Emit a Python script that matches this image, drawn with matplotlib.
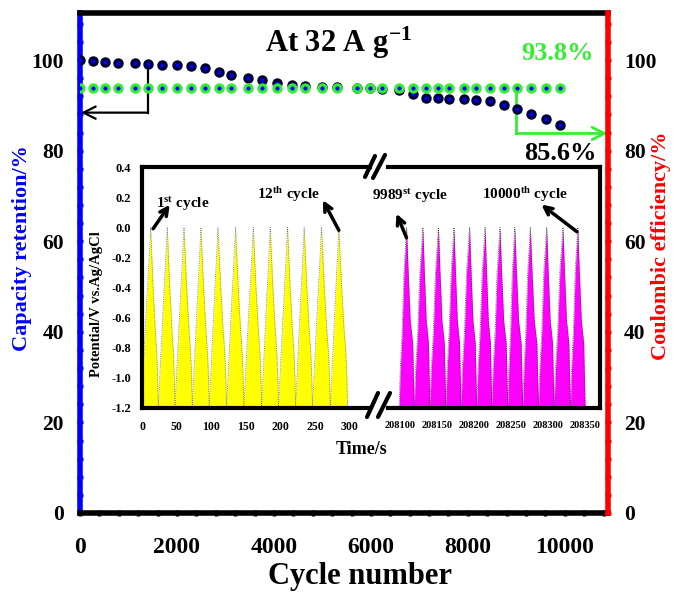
import numpy as np
import matplotlib
matplotlib.use('Agg')
import matplotlib.pyplot as plt
from matplotlib.lines import Line2D

plt.rcParams['font.family'] = ['Liberation Serif', 'DejaVu Serif']
plt.rcParams['font.weight'] = 'bold'
plt.rcParams['mathtext.fontset'] = 'custom'
plt.rcParams['mathtext.rm'] = 'Liberation Serif:bold'
plt.rcParams['mathtext.it'] = 'Liberation Serif:bold'
plt.rcParams['mathtext.bf'] = 'Liberation Serif:bold'

# cycling data
cycles = [0, 260, 515, 780, 1130, 1400, 1690, 2000, 2290, 2580, 2865, 3110,
          3460, 3750, 4060, 4370, 4640, 4990, 5300, 5705, 5980, 6220, 6580,
          6870, 7130, 7380, 7610, 7920, 8160, 8450, 8740, 9010, 9300, 9610, 9900]
retention = [100.0, 99.8, 99.6, 99.4, 99.3, 99.2, 99.0, 98.9, 98.6, 98.2, 97.4, 96.8,
             96.0, 95.5, 95.0, 94.5, 94.2, 94.1, 94.0, 93.9, 93.8, 93.7, 93.5,
             92.6, 91.7, 91.6, 91.4, 91.4, 91.3, 91.0, 90.0, 89.1, 88.1, 87.1, 85.6]
efficiency = [93.8] * len(cycles)

# galvanostatic charge/discharge curves (inset)
yellow_valley_t = [-1, 23.5, 47.6, 72.6, 97, 122, 147, 172.6, 197, 221.7, 246, 271.7, 296.7]
yellow_peak_t = [12.5, 36.5, 60.6, 85, 109.6, 135, 160.6, 185, 210, 234, 259, 284]
yellow_charge_frac = [0, 0.29, 0.57, 0.82, 1.0]
yellow_charge_v = [-1.2, -0.84, -0.50, -0.22, 0.0]
yellow_dis_frac = [0, 0.32, 0.6, 0.8, 0.92, 1.0]
yellow_dis_v = [0.0, -0.40, -0.68, -0.84, -1.01, -1.2]

magenta_valley_t = [208099, 208119.4, 208140.5, 208162, 208182.4, 208203.6, 208224,
                    208245.5, 208265.8, 208287, 208308, 208330, 208350]
magenta_peak_t = [208109, 208131, 208152, 208173, 208194, 208215, 208235, 208255,
                  208276, 208298, 208320, 208340]
magenta_charge_frac = [0, 0.15, 0.4, 0.65, 1.0]
magenta_charge_v = [-1.2, -0.95, -0.70, -0.30, 0.0]
magenta_dis_frac = [0, 0.2, 0.48, 0.8, 0.88, 1.0]
magenta_dis_v = [0.0, -0.28, -0.62, -0.77, -0.95, -1.2]

inset_yticks = [-1.2, -1.0, -0.8, -0.6, -0.4, -0.2, 0.0, 0.2, 0.4]
inset_yticklabels = ['-1.2', '-1.0', '-0.8', '-0.6', '-0.4', '-0.2', '0.0', '0.2', '0.4']


def build_curve(valleys, peaks, cf, cv, df, dv):
    t, v = [], []
    for i in range(len(peaks)):
        t0, tp, t1 = valleys[i], peaks[i], valleys[i + 1]
        t += list(t0 + np.array(cf) * (tp - t0))
        v += list(cv)
        t += list(tp + np.array(df[1:]) * (t1 - tp))
        v += list(dv[1:])
    return np.array(t), np.array(v)


W, H = 675, 594
fig = plt.figure(figsize=(6.75, 5.94), dpi=100)

ax = fig.add_axes([80 / W, 1 - 513 / H, 528 / W, 500 / H])
ax2 = ax.twinx()

navy = '#000033'
green = '#33ee33'
ax.plot(cycles, retention, 'o', color=navy, ms=6.5, zorder=3)
ax.plot(cycles, retention, 'o', color='#0000ff', ms=2, zorder=3)
ax.plot(cycles, efficiency, 'o', color=green, ms=6.5, zorder=4)
ax.plot(cycles, efficiency, 'o', color='#0000ff', ms=2, zorder=4)

ax.set_xlim(0, 10890)
ax.set_ylim(0, 110.4)
ax2.set_ylim(0, 110.4)
ax.set_xticks(np.arange(0, 10001, 2000))
ax.set_xticks(np.arange(0, 10890, 400), minor=True)
for a in (ax, ax2):
    a.set_yticks(np.arange(0, 101, 20))
    a.set_yticks(np.arange(0, 110, 4), minor=True)

for s in ['top', 'bottom']:
    ax.spines[s].set_linewidth(4)
    ax.spines[s].set_color('black')
ax.spines['left'].set_linewidth(4)
ax.spines['left'].set_color('#0000ff')
ax.spines['right'].set_visible(False)
ax2.spines['right'].set_linewidth(4)
ax2.spines['right'].set_color('#ff0000')
for s in ['left', 'top', 'bottom']:
    ax2.spines[s].set_visible(False)

ax.tick_params(axis='x', which='both', direction='inout', length=5, width=2.5,
               color='black', top=False, pad=15, labelsize=17)
ax.tick_params(axis='y', which='both', direction='inout', length=5, width=2.5,
               color='#0000ff', pad=9, labelsize=15.5)
ax2.tick_params(axis='y', which='both', direction='inout', length=5, width=2.5,
                color='#ff0000', pad=9, labelsize=15.5)

ax.set_xlabel('Cycle number', fontsize=22, fontweight='bold')
ax.xaxis.set_label_coords(0.53, -0.098)
ax.set_ylabel('Capacity retention/%', fontsize=16, fontweight='bold', color='#0000ff')
ax.yaxis.set_label_coords(-0.09, 0.53)
ax2.set_ylabel('Coulombic efficiency/%', fontsize=16, fontweight='bold', color='#ff0000')
ax2.yaxis.set_label_coords(1.081, 0.535)

ax.text(0.49, 0.94, 'At 32 A g$^{-1}$', transform=ax.transAxes, fontsize=22,
        ha='center', va='center')
ax.text(0.905, 0.918, '93.8%', transform=ax.transAxes, fontsize=19,
        color=green, ha='center', va='center')
ax.text(0.909, 0.718, '85.6%', transform=ax.transAxes, fontsize=19,
        ha='center', va='center')

# arrows pointing to the axes
ax.plot([1400, 1400], [99.3, 88.4], color='black', lw=1.6, zorder=2)
ax.annotate('', xy=(20, 88.4), xytext=(1400, 88.4),
            arrowprops=dict(arrowstyle='->', lw=1.6, color='black',
                            mutation_scale=22, shrinkA=0, shrinkB=0))
ax.plot([9000, 9000], [93.8, 83.8], color=green, lw=2, zorder=2)
ax.annotate('', xy=(10880, 83.8), xytext=(9000, 83.8),
            arrowprops=dict(arrowstyle='->', lw=2, color=green,
                            mutation_scale=22, shrinkA=0, shrinkB=0))

# inset
ib, ih = 1 - 408 / H, 241 / H
axL = fig.add_axes([142 / W, ib, (370 - 142) / W, ih])
axR = fig.add_axes([388 / W, ib, (600 - 388) / W, ih])

ty, vy = build_curve(yellow_valley_t, yellow_peak_t, yellow_charge_frac,
                     yellow_charge_v, yellow_dis_frac, yellow_dis_v)
tm, vm = build_curve(magenta_valley_t, magenta_peak_t, magenta_charge_frac,
                     magenta_charge_v, magenta_dis_frac, magenta_dis_v)
axL.fill_between(ty, -1.2, vy, color='#ffff00', lw=0)
axL.plot(ty, vy, color='#666666', lw=0.6, ls=':')
axR.fill_between(tm, -1.2, vm, color='#ff00ff', lw=0)
axR.plot(tm, vm, color='#333333', lw=0.6, ls=':')

axL.set_xlim(0, 329)
axR.set_xlim(208084, 208370)
for a in (axL, axR):
    a.set_ylim(-1.2, 0.4)
    a.patch.set_alpha(0)
    for s in a.spines.values():
        s.set_linewidth(3)
axL.spines['right'].set_visible(False)
axR.spines['left'].set_visible(False)

axL.set_xticks(np.arange(0, 301, 50))
axL.set_yticks(inset_yticks)
axL.set_yticklabels(inset_yticklabels)
axL.tick_params(axis='x', length=0, pad=9, labelsize=8.5)
axL.tick_params(axis='y', length=0, pad=8, labelsize=9)
axR.set_xticks(np.arange(208100, 208351, 50))
axR.set_yticks([])
axR.tick_params(axis='x', length=0, pad=9, labelsize=7.5)
axR.ticklabel_format(useOffset=False, style='plain', axis='x')

axL.set_ylabel('Potential/V vs.Ag/AgCl', fontsize=10.5, fontweight='bold')
axL.yaxis.set_label_coords(-0.17, 0.43)
fig.text(362 / W, 1 - 449 / H, 'Time/s', fontsize=13, ha='center', va='center')

# cycle labels and arrows in the inset
arr = dict(arrowstyle='->', lw=2.5, color='black', mutation_scale=14,
           shrinkA=0, shrinkB=0)
axL.annotate('', xy=(40, 0.15), xytext=(16, -0.01), arrowprops=arr)
axL.annotate('', xy=(261, 0.18), xytext=(284, -0.02), arrowprops=arr)
axL.text(20, 0.13, '1$^{st}$ cycle', fontsize=11, va='baseline')
axL.text(166, 0.19, '12$^{th}$ cycle', fontsize=11, va='baseline')
axR.annotate('', xy=(208095.5, 0.09), xytext=(208109, -0.07), arrowprops=arr)
axR.annotate('', xy=(208291, 0.15), xytext=(208339, -0.03), arrowprops=arr)
axR.text(208063, 0.18, '9989$^{st}$ cycle', fontsize=11, va='baseline', clip_on=False)
axR.text(208211, 0.19, '10000$^{th}$ cycle', fontsize=11, va='baseline')

# axis break marks
for (x0, y0, x1, y1) in [(365, 177, 375, 156), (373, 178, 385, 155),
                         (367, 417, 378, 393), (378, 417, 390, 393)]:
    fig.add_artist(Line2D([x0 / W, x1 / W], [1 - y0 / H, 1 - y1 / H],
                          color='black', lw=3, solid_capstyle='round'))

fig.savefig('out.png', dpi=100)
